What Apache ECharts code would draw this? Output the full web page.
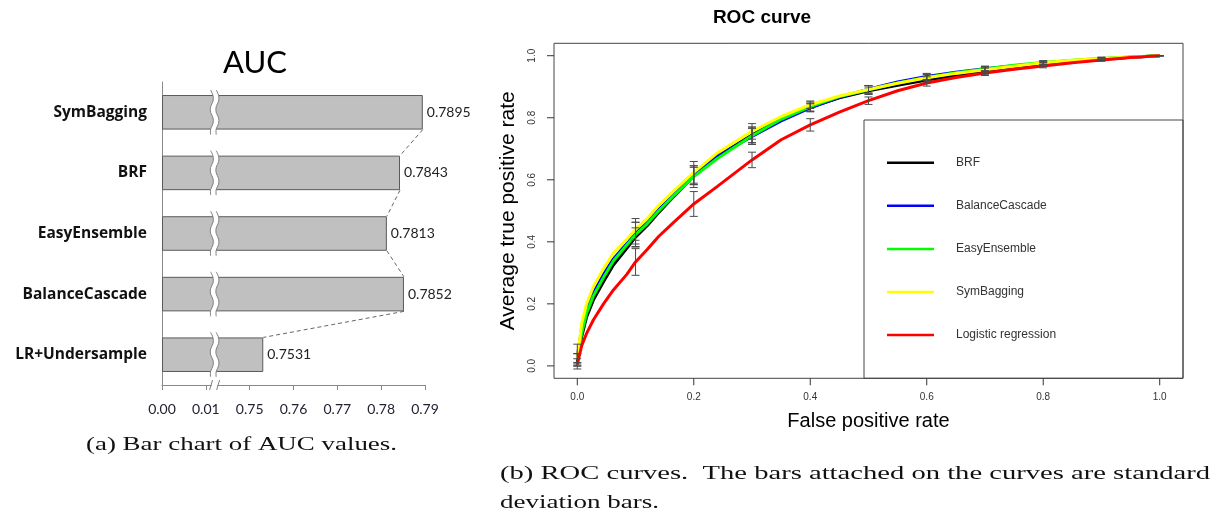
<!DOCTYPE html>
<html><head><meta charset="utf-8">
<script src="https://cdn.jsdelivr.net/npm/echarts@6/dist/echarts.min.js"></script>
<style>html,body{margin:0;padding:0;background:#fff}#c{width:1217px;height:516px}</style>
</head><body><div id="c"></div>
<script>
// ---------- (a) AUC bar chart ----------
const methods = ['SymBagging', 'BRF', 'EasyEnsemble', 'BalanceCascade', 'LR+Undersample'];
const aucValues = [0.7895, 0.7843, 0.7813, 0.7852, 0.7531];
const aucTickValues = [0, 0.01, 0.75, 0.76, 0.77, 0.78, 0.79];
const aucTickLabels = ['0.00', '0.01', '0.75', '0.76', '0.77', '0.78', '0.79'];

// ---------- (b) ROC curves ----------
const rocNames = ['BRF', 'BalanceCascade', 'EasyEnsemble', 'SymBagging', 'Logistic regression'];
const rocColors = ['#000000', '#0000ff', '#00ff00', '#ffff00', '#ff0000'];
const fpr = [0, 0.0075, 0.016, 0.0275, 0.045, 0.062, 0.085, 0.1, 0.12, 0.14, 0.165, 0.2, 0.24, 0.3, 0.35, 0.4, 0.45, 0.5, 0.55, 0.6, 0.65, 0.7, 0.75, 0.8, 0.85, 0.9, 0.95, 1.0];
const tprBRF  = [0.013, 0.094, 0.158, 0.212, 0.271, 0.325, 0.379, 0.415, 0.452, 0.495, 0.545, 0.612, 0.676, 0.745, 0.796, 0.834, 0.864, 0.887, 0.905, 0.922, 0.937, 0.950, 0.962, 0.972, 0.981, 0.988, 0.995, 1.0];
const tprBC   = [0.030, 0.120, 0.180, 0.235, 0.295, 0.345, 0.395, 0.428, 0.462, 0.505, 0.550, 0.615, 0.675, 0.740, 0.790, 0.832, 0.866, 0.892, 0.915, 0.933, 0.947, 0.958, 0.968, 0.976, 0.984, 0.990, 0.995, 1.0];
const tprEasy = [0.020, 0.105, 0.170, 0.225, 0.285, 0.338, 0.390, 0.423, 0.458, 0.500, 0.548, 0.610, 0.668, 0.742, 0.795, 0.836, 0.868, 0.890, 0.912, 0.930, 0.945, 0.957, 0.969, 0.978, 0.985, 0.991, 0.996, 1.0];
const tprSym  = [0.024, 0.137, 0.200, 0.255, 0.314, 0.363, 0.408, 0.440, 0.475, 0.518, 0.563, 0.624, 0.686, 0.756, 0.804, 0.842, 0.870, 0.891, 0.911, 0.929, 0.943, 0.955, 0.966, 0.977, 0.985, 0.991, 0.996, 1.0];
const tprLR   = [0.005, 0.065, 0.105, 0.148, 0.200, 0.245, 0.295, 0.335, 0.375, 0.418, 0.462, 0.522, 0.578, 0.664, 0.729, 0.777, 0.818, 0.855, 0.887, 0.912, 0.930, 0.944, 0.956, 0.967, 0.977, 0.986, 0.994, 1.0];
const barFpr  = [0, 0.1, 0.2, 0.3, 0.4, 0.5, 0.6, 0.7, 0.8, 0.9, 1.0];
const sdBRF  = [0.010, 0.030, 0.028, 0.025, 0.013, 0.012, 0.010, 0.010, 0.006, 0.004, 0];
const sdBC   = [0.040, 0.035, 0.030, 0.025, 0.013, 0.012, 0.010, 0.008, 0.006, 0.004, 0];
const sdEasy = [0.020, 0.040, 0.035, 0.028, 0.015, 0.014, 0.011, 0.009, 0.006, 0.004, 0];
const sdSym  = [0.015, 0.035, 0.035, 0.025, 0.012, 0.012, 0.010, 0.008, 0.006, 0.004, 0];
const sdLR   = [0.006, 0.043, 0.040, 0.025, 0.020, 0.012, 0.010, 0.008, 0.006, 0.004, 0];
const rocTicks = [0, 0.2, 0.4, 0.6, 0.8, 1.0];

const tprAll = [tprBRF, tprBC, tprEasy, tprSym, tprLR];
const sdAll = [sdBRF, sdBC, sdEasy, sdSym, sdLR];

// broken-axis mapping: value -> position between the tick values
function toAxis(v) {
  for (let i = 0; i < aucTickValues.length - 1; i++) {
    const a = aucTickValues[i], b = aucTickValues[i + 1];
    if (v <= b) return i + (v - a) / (b - a);
  }
  return aucTickValues.length - 1;
}
const BREAK_POS = 1.2;   // inside the 0.01 .. 0.75 gap
const BAR_RATIO = 0.57;
const R_MIN = -0.04, R_MAX = 1.04;   // R pads the range by 4%

const chart = echarts.init(document.getElementById('c'), null, {renderer: 'canvas'});

function wave(cx, top, bottom) {
  const pts = [];
  for (let y = top, k = 0; y <= bottom + 0.01; y += (bottom - top) / 8, k++) {
    pts.push([cx + (k % 2 === 0 ? -1.2 : 1.2) * (k % 4 < 2 ? 1 : -1), y]);
  }
  return pts;
}

const errData = [];
tprAll.forEach((tpr, s) => {
  barFpr.forEach((x, j) => {
    const idx = fpr.indexOf(x);
    const m = tpr[idx];
    errData.push([x, m - sdAll[s][j], m + sdAll[s][j]]);
  });
});

const measureCtx = document.createElement('canvas').getContext('2d');
function fitScale(text, font, target) {
  measureCtx.font = font;
  return target / measureCtx.measureText(text).width;
}
const capFont = '19px "Liberation Serif"';
const capA = '(a) Bar chart of AUC values.';
const capB1 = '(b) ROC curves.  The bars attached on the curves are standard';
const capB2 = 'deviation bars.';

const rAxisLabel = {fontFamily: 'Liberation Sans', fontSize: 10, color: '#333'};
const TICK_STYLE = {stroke: '#333', lineWidth: 1, fill: null};

const option = {
  animation: false,
  backgroundColor: '#fff',
  grid: [
    {left: 162, top: 82, width: 263, height: 303},
    {left: 554, top: 43.3, width: 629, height: 335, show: true, borderColor: '#444', borderWidth: 1, backgroundColor: 'transparent'}
  ],
  legend: {
    data: rocNames, orient: 'vertical', left: 887, top: 155.7, padding: 0,
    icon: 'rect', itemWidth: 47, itemHeight: 2.5, itemGap: 29.1, selectedMode: false,
    textStyle: {fontFamily: 'Liberation Sans', fontSize: 12, color: '#333', lineHeight: 14, padding: [0, 0, 0, 17]}
  },
  xAxis: [
    {type: 'value', gridIndex: 0, min: 0, max: aucTickValues.length - 1, interval: 1,
     splitLine: {show: false},
     axisLine: {show: true, lineStyle: {color: '#8a8a8a'}},
     axisTick: {show: true, length: 5, lineStyle: {color: '#8a8a8a'}},
     axisLabel: {formatter: v => aucTickLabels[v] || '', fontFamily: 'Lato', fontSize: 14, color: '#222233', margin: 17}},
    {type: 'value', gridIndex: 1, min: R_MIN, max: R_MAX,
     splitLine: {show: false}, axisLine: {show: false, onZero: false}, axisTick: {show: false},
     axisLabel: Object.assign({customValues: rocTicks, formatter: v => v.toFixed(1), margin: 14}, rAxisLabel),
     name: 'False positive rate', nameLocation: 'middle', nameGap: 33,
     nameTextStyle: {fontFamily: 'Liberation Sans', fontSize: 20, color: '#000'}}
  ],
  yAxis: [
    {type: 'category', gridIndex: 0, data: methods, inverse: true,
     axisLine: {show: true, lineStyle: {color: '#8a8a8a'}},
     axisTick: {show: false},
     axisLabel: {fontFamily: 'Open Sans', fontWeight: 'bold', fontSize: 15.5, color: '#111', margin: 15}},
    {type: 'value', gridIndex: 1, min: R_MIN, max: R_MAX,
     splitLine: {show: false}, axisLine: {show: false, onZero: false}, axisTick: {show: false},
     axisLabel: Object.assign({customValues: rocTicks, formatter: v => v.toFixed(1), rotate: 90, margin: 17}, rAxisLabel),
     name: 'Average true positive rate', nameLocation: 'middle', nameGap: 32, nameRotate: 90,
     nameTextStyle: {fontFamily: 'Liberation Sans', fontSize: 21, color: '#000'}}
  ],
  series: [
    {type: 'bar', xAxisIndex: 0, yAxisIndex: 0, data: aucValues.map(toAxis), barWidth: (BAR_RATIO * 100) + '%',
     itemStyle: {color: '#c0c0c0', borderColor: '#5a5a5a', borderWidth: 1},
     label: {show: true, position: 'right', distance: 4, formatter: p => aucValues[p.dataIndex].toFixed(4),
             fontFamily: 'Lato', fontSize: 14, color: '#222'}, z: 2},
    {type: 'custom', xAxisIndex: 0, yAxisIndex: 0, z: 3, silent: true,
     data: aucValues.slice(0, -1).map((v, i) => [toAxis(v), i, toAxis(aucValues[i + 1]), i + 1]),
     encode: {x: [0, 2], y: [1, 3]},
     renderItem: (params, api) => {
       const a = api.coord([api.value(0), api.value(1)]);
       const b = api.coord([api.value(2), api.value(3)]);
       const h = api.size([0, 1])[1] * BAR_RATIO / 2;
       return {type: 'line', shape: {x1: a[0], y1: a[1] + h, x2: b[0], y2: b[1] - h},
               style: {stroke: '#666', lineWidth: 1, lineDash: [4, 3]}};
     }},
    {type: 'custom', xAxisIndex: 0, yAxisIndex: 0, z: 4, silent: true,
     data: methods.map((m, i) => [BREAK_POS, i]),
     encode: {x: 0, y: 1},
     renderItem: (params, api) => {
       const c = api.coord([api.value(0), api.value(1)]);
       const h = api.size([0, 1])[1] * BAR_RATIO / 2;
       const top = c[1] - h - 5, bottom = c[1] + h + 5;
       const w1 = wave(c[0] - 2.8, top, bottom), w2 = wave(c[0] + 2.8, top, bottom);
       return {type: 'group', children: [
         {type: 'polygon', shape: {points: w1.concat(w2.slice().reverse()), smooth: 0.4}, style: {fill: '#fff'}},
         {type: 'polyline', shape: {points: w1, smooth: 0.4}, style: {stroke: '#808080', lineWidth: 1, fill: null}},
         {type: 'polyline', shape: {points: w2, smooth: 0.4}, style: {stroke: '#808080', lineWidth: 1, fill: null}}
       ]};
     }},
    {type: 'custom', xAxisIndex: 0, yAxisIndex: 0, z: 4, silent: true,
     data: [[BREAK_POS, methods.length - 1]],
     encode: {x: 0, y: 1},
     renderItem: (params, api) => {
       const c = api.coord([api.value(0), api.value(1)]);
       const y = c[1] + api.size([0, 1])[1] / 2;
       return {type: 'group', children: [
         {type: 'rect', shape: {x: c[0] - 3, y: y - 2, width: 6, height: 4}, style: {fill: '#fff'}},
         {type: 'line', shape: {x1: c[0] - 5, y1: y + 5, x2: c[0] - 2, y2: y - 5}, style: {stroke: '#808080', lineWidth: 1}},
         {type: 'line', shape: {x1: c[0] + 2, y1: y + 5, x2: c[0] + 5, y2: y - 5}, style: {stroke: '#808080', lineWidth: 1}}
       ]};
     }},
    // R-style outside tick marks: bottom edge (x ticks) and left edge (y ticks)
    {type: 'custom', xAxisIndex: 1, yAxisIndex: 1, z: 6, silent: true, clip: false,
     data: rocTicks.map(t => [t, R_MIN]),
     encode: {x: 0, y: 1},
     renderItem: (params, api) => {
       const p = api.coord([api.value(0), api.value(1)]);
       return {type: 'line', shape: {x1: p[0], y1: p[1], x2: p[0], y2: p[1] + 7}, style: TICK_STYLE};
     }},
    {type: 'custom', xAxisIndex: 1, yAxisIndex: 1, z: 6, silent: true, clip: false,
     data: rocTicks.map(t => [R_MIN, t]),
     encode: {x: 0, y: 1},
     renderItem: (params, api) => {
       const p = api.coord([api.value(0), api.value(1)]);
       return {type: 'line', shape: {x1: p[0], y1: p[1], x2: p[0] - 7, y2: p[1]}, style: TICK_STYLE};
     }}
  ].concat(rocNames.map((name, s) => ({
    type: 'line', name: name, xAxisIndex: 1, yAxisIndex: 1, symbol: 'none', z: 3 + s * 0.1,
    data: fpr.map((x, i) => [x, tprAll[s][i]]),
    lineStyle: {color: rocColors[s], width: 3}, itemStyle: {color: rocColors[s]}
  }))).concat([
    {type: 'custom', xAxisIndex: 1, yAxisIndex: 1, z: 5, silent: true, data: errData,
     encode: {x: 0, y: [1, 2]},
     renderItem: (params, api) => {
       const lo = api.coord([api.value(0), api.value(1)]);
       const hi = api.coord([api.value(0), api.value(2)]);
       const st = {stroke: '#4a4a4a', lineWidth: 1};
       return {type: 'group', children: [
         {type: 'line', shape: {x1: lo[0], y1: lo[1], x2: hi[0], y2: hi[1]}, style: st},
         {type: 'line', shape: {x1: lo[0] - 4, y1: lo[1], x2: lo[0] + 4, y2: lo[1]}, style: st},
         {type: 'line', shape: {x1: hi[0] - 4, y1: hi[1], x2: hi[0] + 4, y2: hi[1]}, style: st}
       ]};
     }}
  ]),
  graphic: [
    {type: 'text', x: 255, y: 63, style: {text: 'AUC', font: '31px Lato', fill: '#000', align: 'center', verticalAlign: 'middle'}},
    {type: 'text', x: 762, y: 18, style: {text: 'ROC curve', font: 'bold 19px "Liberation Sans"', fill: '#000', align: 'center', verticalAlign: 'middle'}},
    {type: 'rect', shape: {x: 864, y: 120, width: 319, height: 258.3}, style: {fill: 'none', stroke: '#444', lineWidth: 1}, z: 10},
    {type: 'text', x: 86, y: 445, scaleX: fitScale(capA, capFont, 311), style: {text: capA, font: capFont, fill: '#111', align: 'left', verticalAlign: 'middle'}},
    {type: 'text', x: 500, y: 474, scaleX: fitScale(capB1, capFont, 710), style: {text: capB1, font: capFont, fill: '#111', align: 'left', verticalAlign: 'middle'}},
    {type: 'text', x: 500, y: 503, scaleX: fitScale(capB2, capFont, 159), style: {text: capB2, font: capFont, fill: '#111', align: 'left', verticalAlign: 'middle'}}
  ]
};
chart.setOption(option);
</script></body></html>
